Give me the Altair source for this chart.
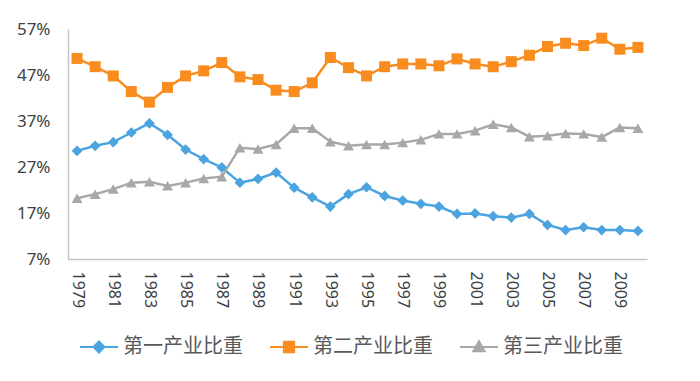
import altair as alt
import pandas as pd

years = [1979, 1980, 1981, 1982, 1983, 1984, 1985, 1986, 1987, 1988, 1989,
         1990, 1991, 1992, 1993, 1994, 1995, 1996, 1997, 1998, 1999, 2000,
         2001, 2002, 2003, 2004, 2005, 2006, 2007, 2008, 2009, 2010]
primary = [30.5, 31.6, 32.4, 34.5, 36.5, 34.0, 30.8, 28.7, 26.9, 23.6, 24.4,
           25.8, 22.5, 20.4, 18.4, 21.1, 22.6, 20.7, 19.7, 19.0, 18.4, 16.8,
           16.9, 16.3, 16.0, 16.8, 14.4, 13.3, 13.9, 13.3, 13.3, 13.1]
secondary = [50.6, 48.8, 46.8, 43.4, 41.1, 44.3, 46.8, 47.9, 49.7, 46.6, 46.0,
             43.7, 43.4, 45.3, 50.8, 48.6, 46.8, 48.8, 49.4, 49.4, 49.0, 50.5,
             49.4, 48.8, 49.9, 51.3, 53.2, 53.9, 53.4, 55.0, 52.6, 53.0]
tertiary = [20.2, 21.1, 22.2, 23.6, 23.8, 22.9, 23.6, 24.5, 24.9, 31.2, 30.9,
            31.9, 35.4, 35.4, 32.5, 31.6, 31.9, 31.9, 32.3, 32.9, 34.2, 34.2,
            34.9, 36.3, 35.6, 33.6, 33.8, 34.3, 34.2, 33.5, 35.6, 35.4]

series_names = ["第一产业比重", "第二产业比重", "第三产业比重"]
colors = ["#4BA3DF", "#F98C1F", "#A8A8A8"]
shapes = ["diamond", "square", "triangle-up"]
marker_sizes = [115, 121, 120]
y_ticks = [7, 17, 27, 37, 47, 57]
x_label_years = [1979, 1981, 1983, 1985, 1987, 1989, 1991, 1993, 1995, 1997,
                 1999, 2001, 2003, 2005, 2007, 2009]

rows = []
for name, vals in zip(series_names, [primary, secondary, tertiary]):
    for yr, v in zip(years, vals):
        rows.append({"year": yr, "series": name, "value": v})
df = pd.DataFrame(rows)

shape_signal = (
    "datum.value === '第一产业比重' ? 'M-1,0H1M0,-0.29L0.29,0L0,0.29L-0.29,0Z' : "
    "datum.value === '第二产业比重' ? 'M-1,0H1M-0.27,-0.27H0.27V0.27H-0.27Z' : "
    "'M-1,0H1M0,-0.3L0.3,0.22H-0.3Z'"
)
color_expr = "scale('color', datum.value)"

legend = alt.Legend(
    title=None, orient="none", legendX=11, legendY=298, direction="horizontal",
    symbolSize=1444, labelFont="Noto Sans CJK SC", labelFontSize=20,
    labelColor="#595959", labelOffset=4, columnPadding=23, padding=0,
    symbolType=alt.ExprRef(shape_signal),
    symbolFillColor=alt.ExprRef(color_expr),
    symbolStrokeColor=alt.ExprRef(color_expr),
    symbolStrokeWidth=2, symbolOpacity=1,
)

color_scale = alt.Scale(domain=series_names, range=colors)
x_enc = alt.X("year:O", scale=alt.Scale(type="point", padding=0.5),
              axis=alt.Axis(values=x_label_years, labelAngle=90, title=None,
                            ticks=False, labelPadding=12, labelFontSize=16))
y_enc = alt.Y("value:Q", scale=alt.Scale(domain=[7, 57], nice=False, zero=False),
              axis=alt.Axis(values=y_ticks, labelExpr="datum.value + '%'",
                            grid=False, ticks=False, title=None,
                            labelPadding=18, labelFontSize=17))

line = alt.Chart(df).mark_line(strokeWidth=2.5).encode(
    x=x_enc, y=y_enc,
    color=alt.Color("series:N", scale=color_scale, legend=legend),
)

layers = [line]
for name, col, shp, sz in zip(series_names, colors, shapes, marker_sizes):
    layers.append(
        alt.Chart(df).transform_filter(alt.datum.series == name)
        .mark_point(filled=True, opacity=1, shape=shp, size=sz, color=col)
        .encode(x=x_enc, y=y_enc)
    )

chart = alt.layer(*layers).properties(
    width=579, height=230,
    autosize=alt.AutoSizeParams(type="none"),
    padding={"left": 60, "top": 21, "right": 45, "bottom": 114},
    background="white",
).configure_view(stroke=None).configure_axis(
    domainColor="#C4C4C4", domainWidth=1.5, labelColor="#404040",
    labelFont="Noto Sans",
)

chart.save("out.html", embed_options={"renderer": "svg", "actions": False})
